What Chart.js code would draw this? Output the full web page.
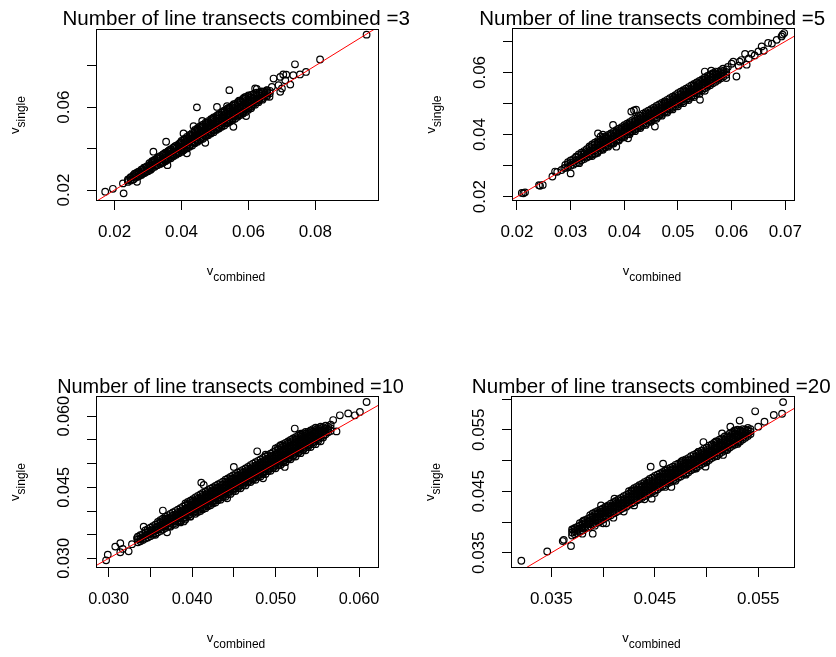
<!DOCTYPE html>
<html><head><meta charset="utf-8">
<script src="https://cdn.jsdelivr.net/npm/chart.js@4.4.1/dist/chart.umd.min.js"></script>
<style>
html,body{margin:0;padding:0;background:#fff;}
#wrap{position:relative;width:836px;height:657px;overflow:hidden;background:#fff;}
canvas{position:absolute;}
</style></head><body>
<div id="wrap">
<canvas id="c1" width="418" height="328" style="left:0;top:0"></canvas>
<canvas id="c2" width="418" height="328" style="left:418px;top:0"></canvas>
<canvas id="c3" width="418" height="329" style="left:0;top:328px"></canvas>
<canvas id="c4" width="418" height="329" style="left:418px;top:328px"></canvas>
</div>
<script>
// ---------- text ----------
const panelTitles = ["Number of line transects combined =3","Number of line transects combined =5","Number of line transects combined =10","Number of line transects combined =20"];
const xAxisTitle = ["v","combined"];
const yAxisTitle = ["v","single"];

// ---------- axis limits and ticks ----------
const p1XLimits = [0.01445, 0.09901], p1YLimits = [0.0147, 0.09773];
const p2XLimits = [0.01907, 0.07181], p2YLimits = [0.01861, 0.07432];
const p3XLimits = [0.02849, 0.06239], p3YLimits = [0.02798, 0.06427];
const p4XLimits = [0.0311, 0.05855],  p4YLimits = [0.03252, 0.06049];

const p1XTicks = [0.02,0.04,0.06,0.08], p1XLabels = ["0.02","0.04","0.06","0.08"];
const p1YTicks = [0.02,0.04,0.06,0.08], p1YLabels = ["0.02","","0.06",""];
const p2XTicks = [0.02,0.03,0.04,0.05,0.06,0.07], p2XLabels = ["0.02","0.03","0.04","0.05","0.06","0.07"];
const p2YTicks = [0.02,0.03,0.04,0.05,0.06,0.07], p2YLabels = ["0.02","","0.04","","0.06",""];
const p3XTicks = [0.030,0.035,0.040,0.045,0.050,0.055,0.060], p3XLabels = ["0.030","","0.040","","0.050","","0.060"];
const p3YTicks = [0.030,0.035,0.040,0.045,0.050,0.055,0.060], p3YLabels = ["0.030","","","0.045","","","0.060"];
const p4XTicks = [0.035,0.040,0.045,0.050,0.055], p4XLabels = ["0.035","","0.045","","0.055"];
const p4YTicks = [0.035,0.040,0.045,0.050,0.055,0.060], p4YLabels = ["0.035","","0.045","","0.055",""];

// reference line v_single = v_combined
const ablineIntercept = 0, ablineSlope = 1;

// ---------- scattered points [v_combined, v_single] ----------
const panel1Points = [
[0.0172,0.0192],[0.0195,0.0206],[0.0227,0.0184],[0.0225,0.0232],[0.0267,0.0240],[0.0316,0.0385],[0.0354,0.0433],[0.0358,0.0320],[0.0416,0.0377],[0.0406,0.0473],[0.0436,0.0508],[0.0446,0.0599],[0.0462,0.0534],[0.0471,0.0428],[0.0506,0.0601],[0.0536,0.0605],[0.0543,0.0682],[0.0555,0.0505],[0.0593,0.0557],[0.0620,0.0690],[0.0625,0.0688],[0.0640,0.0674],[0.0655,0.0682],[0.0663,0.0650],[0.0670,0.0698],[0.0675,0.0738],[0.0690,0.0706],[0.0695,0.0746],[0.0695,0.0674],[0.0700,0.0690],[0.0704,0.0758],[0.0710,0.0730],[0.0713,0.0757],[0.0725,0.0709],[0.0734,0.0754],[0.0739,0.0807],[0.0754,0.0758],[0.0772,0.0770],[0.0814,0.0830],[0.0953,0.0950],
[0.0240,0.0246],[0.0248,0.0262],[0.0256,0.0252],[0.0260,0.0279],[0.0268,0.0285],[0.0272,0.0268],[0.0280,0.0273],[0.0284,0.0299],[0.0288,0.0308],[0.0292,0.0285],[0.0300,0.0291],[0.0304,0.0317],[0.0308,0.0298],[0.0312,0.0335],[0.0316,0.0340],[0.0324,0.0318],[0.0328,0.0352],[0.0332,0.0358],[0.0340,0.0334],[0.0344,0.0370],[0.0348,0.0375],[0.0356,0.0350],[0.0360,0.0387],[0.0364,0.0392],[0.0372,0.0366],[0.0376,0.0404],[0.0380,0.0410],[0.0388,0.0383],[0.0392,0.0421],[0.0396,0.0427],[0.0404,0.0390],[0.0408,0.0402],[0.0416,0.0450],[0.0424,0.0414],[0.0428,0.0466],[0.0440,0.0431],[0.0444,0.0486],[0.0448,0.0439],[0.0456,0.0447],[0.0460,0.0505],[0.0472,0.0463],[0.0476,0.0524],[0.0480,0.0471],[0.0488,0.0479],[0.0492,0.0543],[0.0504,0.0495],[0.0508,0.0561],[0.0512,0.0503],[0.0520,0.0511],[0.0524,0.0579],[0.0536,0.0527],[0.0540,0.0597],[0.0544,0.0535],[0.0552,0.0543],[0.0556,0.0614],[0.0568,0.0560],[0.0572,0.0631],[0.0576,0.0568],[0.0584,0.0577],[0.0588,0.0647],[0.0600,0.0594],[0.0610,0.0603],[0.0620,0.0612],[0.0630,0.0624],[0.0642,0.0636],[0.0655,0.0651],
[0.0336,0.0326],[0.0352,0.0339],[0.0368,0.0353],[0.0384,0.0370],[0.0400,0.0384],[0.0416,0.0401],[0.0432,0.0415],[0.0448,0.0433],[0.0464,0.0447],[0.0480,0.0464],[0.0496,0.0479],[0.0512,0.0497],[0.0528,0.0511],[0.0544,0.0529],[0.0560,0.0544],[0.0576,0.0562],[0.0592,0.0577],[0.0608,0.0595],[0.0344,0.0331],[0.0360,0.0347],[0.0376,0.0363],[0.0392,0.0378],[0.0408,0.0394],[0.0424,0.0409],[0.0440,0.0426],[0.0456,0.0441],[0.0472,0.0458],[0.0488,0.0473],[0.0504,0.0490],[0.0520,0.0505],[0.0536,0.0522],[0.0552,0.0537],[0.0568,0.0554],[0.0584,0.0569],[0.0600,0.0587]
];
const panel2Points = [
[0.0212,0.0211],[0.0215,0.0214],[0.0209,0.0212],[0.0243,0.0235],[0.0248,0.0238],[0.0241,0.0237],[0.0266,0.0265],[0.0271,0.0281],[0.0275,0.0280],[0.0288,0.0292],[0.0283,0.0286],[0.0300,0.0275],[0.0310,0.0329],[0.0351,0.0404],[0.0356,0.0394],[0.0360,0.0400],[0.0379,0.0431],[0.0385,0.0361],[0.0407,0.0388],[0.0413,0.0474],[0.0422,0.0480],[0.0418,0.0478],[0.0457,0.0426],[0.0541,0.0512],[0.0550,0.0603],[0.0562,0.0606],[0.0590,0.0582],[0.0593,0.0618],[0.0600,0.0628],[0.0603,0.0635],[0.0609,0.0587],[0.0615,0.0635],[0.0613,0.0622],[0.0618,0.0640],[0.0625,0.0660],[0.0628,0.0625],[0.0632,0.0645],[0.0637,0.0660],[0.0643,0.0655],[0.0650,0.0668],[0.0656,0.0684],[0.0660,0.0670],[0.0668,0.0695],[0.0675,0.0693],[0.0684,0.0705],[0.0693,0.0716],[0.0698,0.0727],[0.0695,0.0722],
[0.0316,0.0308],[0.0334,0.0330],[0.0346,0.0338],[0.0352,0.0372],[0.0364,0.0359],[0.0367,0.0389],[0.0376,0.0372],[0.0385,0.0408],[0.0394,0.0391],[0.0403,0.0426],[0.0412,0.0410],[0.0421,0.0444],[0.0430,0.0429],[0.0439,0.0463],[0.0448,0.0448],[0.0457,0.0482],[0.0466,0.0466],[0.0475,0.0501],[0.0484,0.0485],[0.0493,0.0520],[0.0502,0.0504],[0.0511,0.0540],[0.0520,0.0523],[0.0529,0.0559],[0.0538,0.0542],[0.0547,0.0576],[0.0556,0.0561],[0.0565,0.0595],[0.0574,0.0580],[0.0584,0.0612],
[0.0340,0.0331],[0.0350,0.0341],[0.0360,0.0351],[0.0370,0.0361],[0.0380,0.0371],[0.0390,0.0381],[0.0400,0.0391],[0.0410,0.0401],[0.0420,0.0411],[0.0430,0.0421],[0.0440,0.0431],[0.0450,0.0441],[0.0460,0.0451],[0.0470,0.0461],[0.0480,0.0471],[0.0490,0.0481],[0.0500,0.0491],[0.0510,0.0501],[0.0520,0.0511],[0.0530,0.0521],[0.0540,0.0531],[0.0550,0.0541]
];
const panel3Points = [
[0.0297,0.0296],[0.0299,0.0308],[0.0308,0.0325],[0.0314,0.0332],[0.0314,0.0313],[0.0317,0.0320],[0.0324,0.0315],[0.0328,0.0330],[0.0334,0.0343],[0.0342,0.0367],[0.0338,0.0340],[0.0365,0.0401],[0.0370,0.0355],[0.0390,0.0378],[0.0411,0.0460],[0.0414,0.0455],[0.0442,0.0427],[0.0450,0.0493],[0.0478,0.0526],[0.0485,0.0469],[0.0511,0.0493],[0.0523,0.0574],[0.0569,0.0592],[0.0573,0.0568],[0.0577,0.0602],[0.0587,0.0606],[0.0595,0.0602],[0.0601,0.0609],[0.0609,0.0630],
[0.0356,0.0350],[0.0368,0.0384],[0.0374,0.0367],[0.0386,0.0379],[0.0392,0.0386],[0.0398,0.0389],[0.0407,0.0398],[0.0413,0.0404],[0.0419,0.0410],[0.0425,0.0416],[0.0431,0.0423],[0.0437,0.0429],[0.0443,0.0435],[0.0449,0.0441],[0.0455,0.0448],[0.0461,0.0454],[0.0467,0.0460],[0.0473,0.0466],[0.0479,0.0472],[0.0485,0.0478],[0.0491,0.0484],[0.0497,0.0490],[0.0503,0.0496],[0.0509,0.0502],[0.0515,0.0509],[0.0521,0.0515],[0.0527,0.0522],[0.0533,0.0528],[0.0539,0.0535],[0.0545,0.0541],[0.0551,0.0548],[0.0557,0.0555],[0.0488,0.0519],[0.0506,0.0539],[0.0530,0.0563],
[0.0380,0.0371],[0.0386,0.0376],[0.0392,0.0382],[0.0398,0.0388],[0.0404,0.0394],[0.0410,0.0400],[0.0416,0.0406],[0.0422,0.0412],[0.0428,0.0418],[0.0434,0.0424],[0.0440,0.0430],[0.0446,0.0436],[0.0452,0.0442],[0.0458,0.0448],[0.0464,0.0454],[0.0470,0.0461],[0.0476,0.0466],[0.0482,0.0473],[0.0488,0.0478],[0.0494,0.0485],[0.0500,0.0490],[0.0506,0.0497],[0.0512,0.0503],[0.0518,0.0509],[0.0524,0.0515],[0.0530,0.0522],[0.0536,0.0528],[0.0542,0.0535],[0.0548,0.0541],[0.0554,0.0547]
];
const panel4Points = [
[0.0321,0.0337],[0.0346,0.0352],[0.0361,0.0369],[0.0362,0.0371],[0.0369,0.0361],[0.0371,0.0388],[0.0373,0.0390],[0.0381,0.0402],[0.0390,0.0381],[0.0398,0.0427],[0.0403,0.0398],[0.0411,0.0438],[0.0446,0.0490],[0.0447,0.0438],[0.0458,0.0495],[0.0466,0.0457],[0.0497,0.0530],[0.0499,0.0490],[0.0515,0.0544],[0.0516,0.0509],[0.0523,0.0555],[0.0531,0.0530],[0.0532,0.0565],[0.0547,0.0580],[0.0550,0.0555],[0.0556,0.0563],[0.0565,0.0574],[0.0573,0.0576],[0.0574,0.0595],
[0.0380,0.0381],[0.0392,0.0394],[0.0396,0.0399],[0.0404,0.0424],[0.0412,0.0434],[0.0420,0.0426],[0.0428,0.0451],[0.0436,0.0443],[0.0444,0.0467],[0.0452,0.0459],[0.0460,0.0483],[0.0468,0.0475],[0.0476,0.0499],[0.0484,0.0490],[0.0492,0.0514],[0.0500,0.0506],[0.0509,0.0531],[0.0518,0.0523],[0.0527,0.0549],[0.0536,0.0541],
[0.0400,0.0398],[0.0410,0.0407],[0.0420,0.0417],[0.0430,0.0427],[0.0440,0.0437],[0.0450,0.0447],[0.0460,0.0457],[0.0470,0.0467],[0.0480,0.0477],[0.0490,0.0487],[0.0500,0.0497],[0.0510,0.0507],[0.0520,0.0517],[0.0530,0.0527]
];

// ---------- dense band: each row = [v_combined, v_single, v_single, ...] ----------
const panel1Rows = [
[0.0240,0.0239,0.0251],[0.0248,0.0246,0.0258],[0.0256,0.0251,0.0263,0.0272],[0.0264,0.0260,0.0272,0.0280],[0.0272,0.0266,0.0278,0.0289],[0.0280,0.0275,0.0287,0.0298],[0.0288,0.0281,0.0293,0.0305],[0.0296,0.0290,0.0302,0.0314],
[0.0304,0.0297,0.0309,0.0321,0.0330],[0.0312,0.0305,0.0317,0.0329,0.0339],[0.0320,0.0312,0.0324,0.0336,0.0347],[0.0328,0.0320,0.0332,0.0344,0.0355],[0.0336,0.0327,0.0340,0.0352,0.0363],[0.0344,0.0336,0.0348,0.0360,0.0371],[0.0352,0.0343,0.0356,0.0368,0.0380],[0.0360,0.0352,0.0364,0.0377,0.0388],[0.0368,0.0359,0.0372,0.0385,0.0397],[0.0376,0.0368,0.0380,0.0393,0.0405],[0.0384,0.0375,0.0388,0.0401,0.0414],[0.0392,0.0384,0.0397,0.0409,0.0422],
[0.0400,0.0391,0.0404,0.0417,0.0430,0.0437],[0.0408,0.0400,0.0413,0.0426,0.0439,0.0447],[0.0416,0.0407,0.0420,0.0433,0.0446,0.0457],[0.0424,0.0416,0.0429,0.0442,0.0455,0.0466],[0.0432,0.0423,0.0436,0.0449,0.0462,0.0475],[0.0440,0.0432,0.0445,0.0458,0.0471,0.0484,0.0490],[0.0448,0.0440,0.0453,0.0466,0.0479,0.0492,0.0499],[0.0456,0.0448,0.0461,0.0474,0.0487,0.0500,0.0508],[0.0464,0.0456,0.0469,0.0482,0.0495,0.0508,0.0516],[0.0472,0.0464,0.0477,0.0490,0.0503,0.0516,0.0525],[0.0480,0.0472,0.0485,0.0498,0.0511,0.0524,0.0533],[0.0488,0.0480,0.0493,0.0506,0.0519,0.0532,0.0542],[0.0496,0.0488,0.0501,0.0514,0.0527,0.0540,0.0550],
[0.0504,0.0496,0.0509,0.0522,0.0535,0.0548,0.0557],[0.0512,0.0505,0.0518,0.0531,0.0544,0.0557,0.0566],[0.0520,0.0513,0.0526,0.0539,0.0552,0.0565,0.0574],[0.0528,0.0522,0.0535,0.0548,0.0561,0.0574,0.0583],[0.0536,0.0530,0.0543,0.0556,0.0569,0.0582,0.0591],[0.0544,0.0539,0.0552,0.0565,0.0578,0.0591,0.0598],[0.0552,0.0547,0.0560,0.0573,0.0586,0.0599,0.0607],[0.0560,0.0556,0.0569,0.0582,0.0595,0.0608,0.0615],[0.0568,0.0564,0.0577,0.0590,0.0603,0.0616,0.0624],[0.0576,0.0573,0.0586,0.0599,0.0612,0.0625,0.0632],[0.0584,0.0581,0.0594,0.0607,0.0620,0.0633,0.0641],[0.0592,0.0590,0.0603,0.0616,0.0629,0.0642,0.0650],
[0.0600,0.0598,0.0611,0.0624,0.0637,0.0650,0.0657],[0.0608,0.0607,0.0620,0.0633,0.0646,0.0659],[0.0616,0.0615,0.0628,0.0641,0.0654,0.0664],[0.0624,0.0624,0.0637,0.0650,0.0662,0.0670],[0.0632,0.0632,0.0645,0.0658,0.0670],[0.0640,0.0641,0.0654,0.0666,0.0676],[0.0648,0.0650,0.0663,0.0675],[0.0656,0.0659,0.0671,0.0681],[0.0664,0.0667,0.0679]
];
const panel2Rows = [
[0.0290,0.0293,0.0302],[0.0295,0.0296,0.0305,0.0311],[0.0300,0.0300,0.0309,0.0317],[0.0305,0.0303,0.0312,0.0321],[0.0310,0.0308,0.0317,0.0326],[0.0315,0.0312,0.0321,0.0330,0.0336],[0.0320,0.0317,0.0326,0.0335,0.0342],[0.0325,0.0321,0.0330,0.0339,0.0347],[0.0330,0.0326,0.0335,0.0344,0.0353],
[0.0335,0.0330,0.0339,0.0348,0.0357,0.0362],[0.0340,0.0336,0.0345,0.0354,0.0363,0.0368],[0.0345,0.0340,0.0349,0.0358,0.0367,0.0374],[0.0350,0.0345,0.0354,0.0363,0.0372,0.0379],[0.0355,0.0350,0.0359,0.0368,0.0377,0.0384],[0.0360,0.0355,0.0364,0.0373,0.0382,0.0389],[0.0365,0.0360,0.0369,0.0378,0.0387,0.0394],[0.0370,0.0365,0.0374,0.0383,0.0392,0.0399],[0.0375,0.0370,0.0379,0.0388,0.0397,0.0404],[0.0380,0.0375,0.0384,0.0393,0.0402,0.0409],[0.0385,0.0380,0.0389,0.0398,0.0407,0.0414],[0.0390,0.0385,0.0394,0.0403,0.0412,0.0419],[0.0395,0.0390,0.0399,0.0408,0.0417,0.0424],
[0.0400,0.0396,0.0405,0.0414,0.0423,0.0430],[0.0405,0.0401,0.0410,0.0419,0.0428,0.0435],[0.0410,0.0406,0.0415,0.0424,0.0433,0.0440],[0.0415,0.0411,0.0420,0.0429,0.0438,0.0446],[0.0420,0.0416,0.0425,0.0434,0.0443,0.0451],[0.0425,0.0421,0.0430,0.0439,0.0448,0.0456],[0.0430,0.0426,0.0435,0.0444,0.0453,0.0461],[0.0435,0.0431,0.0440,0.0449,0.0458,0.0467],[0.0440,0.0436,0.0445,0.0454,0.0463,0.0472],[0.0445,0.0441,0.0450,0.0459,0.0468,0.0477],[0.0450,0.0446,0.0455,0.0464,0.0473,0.0482],[0.0455,0.0451,0.0460,0.0469,0.0478,0.0487],[0.0460,0.0456,0.0465,0.0474,0.0483,0.0492],[0.0465,0.0461,0.0470,0.0479,0.0488,0.0497],[0.0470,0.0466,0.0475,0.0484,0.0493,0.0502],[0.0475,0.0471,0.0480,0.0489,0.0498,0.0507],[0.0480,0.0476,0.0485,0.0494,0.0503,0.0512],[0.0485,0.0481,0.0490,0.0499,0.0508,0.0517],[0.0490,0.0486,0.0495,0.0504,0.0513,0.0522],[0.0495,0.0491,0.0500,0.0509,0.0518,0.0527],
[0.0500,0.0497,0.0506,0.0515,0.0524,0.0533],[0.0505,0.0502,0.0511,0.0520,0.0529,0.0538],[0.0510,0.0507,0.0516,0.0525,0.0534,0.0543],[0.0515,0.0512,0.0521,0.0530,0.0539,0.0548],[0.0520,0.0517,0.0526,0.0535,0.0544,0.0553],[0.0525,0.0522,0.0531,0.0540,0.0549,0.0558],[0.0530,0.0527,0.0536,0.0545,0.0554,0.0563],[0.0535,0.0533,0.0542,0.0551,0.0560,0.0568],[0.0540,0.0538,0.0547,0.0556,0.0565,0.0573],[0.0545,0.0543,0.0552,0.0561,0.0570,0.0578],[0.0550,0.0549,0.0558,0.0567,0.0576,0.0584],[0.0555,0.0554,0.0563,0.0572,0.0581,0.0589],[0.0560,0.0559,0.0568,0.0577,0.0586,0.0594],[0.0565,0.0565,0.0574,0.0583,0.0592,0.0598],[0.0570,0.0570,0.0579,0.0588,0.0597,0.0603],[0.0575,0.0576,0.0585,0.0594,0.0603],[0.0580,0.0581,0.0590,0.0599,0.0607],[0.0585,0.0587,0.0596,0.0605],[0.0590,0.0593,0.0602,0.0610]
];
const panel3Rows = [
[0.0335,0.0334,0.0340,0.0346],[0.0338,0.0336,0.0342,0.0349],[0.0341,0.0339,0.0345,0.0351],[0.0344,0.0342,0.0348,0.0354,0.0359],[0.0347,0.0344,0.0350,0.0356,0.0362],[0.0350,0.0347,0.0353,0.0359,0.0365],[0.0353,0.0350,0.0356,0.0362,0.0368],[0.0356,0.0353,0.0359,0.0365,0.0371],[0.0359,0.0355,0.0361,0.0367,0.0373,0.0377],[0.0362,0.0358,0.0364,0.0370,0.0376,0.0381],[0.0365,0.0361,0.0367,0.0373,0.0379,0.0384],[0.0368,0.0364,0.0370,0.0376,0.0382,0.0388],[0.0371,0.0367,0.0373,0.0379,0.0385,0.0391],[0.0374,0.0369,0.0375,0.0381,0.0387,0.0394],[0.0377,0.0372,0.0378,0.0384,0.0390,0.0397],
[0.0380,0.0375,0.0381,0.0387,0.0393,0.0400],[0.0383,0.0378,0.0384,0.0390,0.0396,0.0403],[0.0386,0.0381,0.0387,0.0393,0.0399,0.0406],[0.0389,0.0384,0.0390,0.0396,0.0402,0.0409],[0.0392,0.0387,0.0393,0.0399,0.0405,0.0412,0.0416],[0.0395,0.0390,0.0396,0.0402,0.0408,0.0414,0.0419],[0.0398,0.0393,0.0399,0.0405,0.0411,0.0417,0.0422],[0.0401,0.0396,0.0402,0.0408,0.0414,0.0420,0.0425],[0.0404,0.0399,0.0405,0.0411,0.0417,0.0423,0.0429],[0.0407,0.0402,0.0408,0.0414,0.0420,0.0426,0.0432],[0.0410,0.0405,0.0411,0.0417,0.0423,0.0429,0.0435],[0.0413,0.0408,0.0414,0.0420,0.0426,0.0432,0.0438],[0.0416,0.0411,0.0417,0.0423,0.0429,0.0435,0.0441],[0.0419,0.0414,0.0420,0.0426,0.0432,0.0438,0.0444],
[0.0422,0.0417,0.0423,0.0429,0.0435,0.0441,0.0447],[0.0425,0.0420,0.0426,0.0432,0.0438,0.0444,0.0450],[0.0428,0.0423,0.0429,0.0435,0.0441,0.0447,0.0453],[0.0431,0.0426,0.0432,0.0438,0.0444,0.0450,0.0456],[0.0434,0.0429,0.0435,0.0441,0.0447,0.0453,0.0459],[0.0437,0.0432,0.0438,0.0444,0.0450,0.0456,0.0462],[0.0440,0.0436,0.0442,0.0448,0.0454,0.0460,0.0466],[0.0443,0.0439,0.0445,0.0451,0.0457,0.0463,0.0469],[0.0446,0.0442,0.0448,0.0454,0.0460,0.0466,0.0472],[0.0449,0.0445,0.0451,0.0457,0.0463,0.0469,0.0475],[0.0452,0.0448,0.0454,0.0460,0.0466,0.0472,0.0478],[0.0455,0.0451,0.0457,0.0463,0.0469,0.0475,0.0481],[0.0458,0.0454,0.0460,0.0466,0.0472,0.0478,0.0484],[0.0461,0.0457,0.0463,0.0469,0.0475,0.0481,0.0487],
[0.0464,0.0460,0.0466,0.0472,0.0478,0.0484,0.0490],[0.0467,0.0463,0.0469,0.0475,0.0481,0.0487,0.0493],[0.0470,0.0466,0.0472,0.0478,0.0484,0.0490,0.0497],[0.0473,0.0469,0.0475,0.0481,0.0487,0.0493,0.0500],[0.0476,0.0472,0.0478,0.0484,0.0490,0.0496,0.0503],[0.0479,0.0475,0.0481,0.0487,0.0493,0.0499,0.0506],[0.0482,0.0478,0.0484,0.0490,0.0496,0.0502,0.0509],[0.0485,0.0481,0.0487,0.0493,0.0499,0.0505,0.0512],[0.0488,0.0484,0.0490,0.0496,0.0502,0.0508,0.0515],[0.0491,0.0487,0.0493,0.0499,0.0505,0.0511,0.0518],[0.0494,0.0490,0.0496,0.0502,0.0508,0.0514,0.0521],[0.0497,0.0493,0.0499,0.0505,0.0511,0.0517,0.0524],
[0.0500,0.0496,0.0502,0.0508,0.0514,0.0520,0.0527,0.0532],[0.0503,0.0499,0.0505,0.0511,0.0517,0.0523,0.0530,0.0535],[0.0506,0.0502,0.0508,0.0514,0.0520,0.0526,0.0533,0.0538],[0.0509,0.0505,0.0511,0.0517,0.0523,0.0529,0.0536,0.0541],[0.0512,0.0508,0.0514,0.0520,0.0526,0.0532,0.0539,0.0544],[0.0515,0.0511,0.0517,0.0523,0.0529,0.0535,0.0542,0.0547],[0.0518,0.0514,0.0520,0.0526,0.0532,0.0538,0.0545,0.0550],[0.0521,0.0517,0.0523,0.0529,0.0535,0.0541,0.0548,0.0553],[0.0524,0.0521,0.0527,0.0533,0.0539,0.0545,0.0551,0.0556],[0.0527,0.0524,0.0530,0.0536,0.0542,0.0548,0.0554,0.0559],[0.0530,0.0527,0.0533,0.0539,0.0545,0.0551,0.0557,0.0561],[0.0533,0.0531,0.0537,0.0543,0.0549,0.0555,0.0560,0.0564],[0.0536,0.0534,0.0540,0.0546,0.0552,0.0558,0.0563,0.0567],
[0.0539,0.0538,0.0544,0.0550,0.0556,0.0562,0.0567],[0.0542,0.0541,0.0547,0.0553,0.0559,0.0565,0.0570],[0.0545,0.0545,0.0551,0.0557,0.0563,0.0568,0.0573],[0.0548,0.0548,0.0554,0.0560,0.0566,0.0571,0.0576],[0.0551,0.0552,0.0558,0.0564,0.0570,0.0575],[0.0554,0.0555,0.0561,0.0567,0.0573,0.0578],[0.0557,0.0559,0.0565,0.0571,0.0577],[0.0560,0.0562,0.0568,0.0574,0.0580],[0.0563,0.0566,0.0572,0.0578],[0.0566,0.0569,0.0575,0.0582]
];
const panel4Rows = [
[0.03700,0.0378,0.0383,0.0388],[0.03725,0.0380,0.0385,0.0390],[0.03750,0.0382,0.0387,0.0392],[0.03775,0.0384,0.0389,0.0394,0.0398],[0.03800,0.0386,0.0391,0.0396,0.0400],[0.03825,0.0389,0.0393,0.0398,0.0403],[0.03850,0.0391,0.0396,0.0400,0.0405],[0.03875,0.0393,0.0398,0.0403,0.0407,0.0411],[0.03900,0.0396,0.0400,0.0405,0.0409,0.0414],[0.03925,0.0398,0.0403,0.0407,0.0412,0.0416],[0.03950,0.0400,0.0405,0.0409,0.0414,0.0418],[0.03975,0.0402,0.0407,0.0412,0.0416,0.0420],
[0.04000,0.0404,0.0409,0.0414,0.0418,0.0422],[0.04025,0.0407,0.0411,0.0416,0.0420,0.0425],[0.04050,0.0409,0.0414,0.0418,0.0423,0.0427],[0.04075,0.0411,0.0416,0.0421,0.0425,0.0430],[0.04100,0.0414,0.0418,0.0423,0.0427,0.0432],[0.04125,0.0416,0.0421,0.0425,0.0430,0.0434],[0.04150,0.0418,0.0423,0.0428,0.0432,0.0437],[0.04175,0.0421,0.0425,0.0430,0.0435,0.0439],[0.04200,0.0423,0.0428,0.0432,0.0437,0.0442],[0.04225,0.0425,0.0430,0.0435,0.0439,0.0444],[0.04250,0.0428,0.0432,0.0437,0.0442,0.0446,0.0450],[0.04275,0.0430,0.0435,0.0440,0.0444,0.0449,0.0452],[0.04300,0.0432,0.0437,0.0442,0.0446,0.0451,0.0455],[0.04325,0.0435,0.0439,0.0444,0.0449,0.0453,0.0457],[0.04350,0.0437,0.0442,0.0446,0.0451,0.0456,0.0460],[0.04375,0.0439,0.0444,0.0449,0.0453,0.0458,0.0462],
[0.04400,0.0442,0.0446,0.0451,0.0456,0.0460,0.0465],[0.04425,0.0444,0.0449,0.0453,0.0458,0.0463,0.0467],[0.04450,0.0446,0.0451,0.0456,0.0460,0.0465,0.0470],[0.04475,0.0449,0.0453,0.0458,0.0463,0.0467,0.0472],[0.04500,0.0451,0.0456,0.0460,0.0465,0.0470,0.0475],[0.04525,0.0453,0.0458,0.0463,0.0467,0.0472,0.0477],[0.04550,0.0456,0.0460,0.0465,0.0470,0.0474,0.0479],[0.04575,0.0458,0.0463,0.0467,0.0472,0.0477,0.0481],[0.04600,0.0460,0.0465,0.0470,0.0474,0.0479,0.0484],[0.04625,0.0463,0.0467,0.0472,0.0477,0.0481,0.0486],[0.04650,0.0465,0.0470,0.0474,0.0479,0.0484,0.0488],[0.04675,0.0467,0.0472,0.0477,0.0481,0.0486,0.0490],[0.04700,0.0470,0.0474,0.0479,0.0484,0.0488,0.0493],[0.04725,0.0472,0.0477,0.0481,0.0486,0.0491,0.0495],[0.04750,0.0474,0.0479,0.0484,0.0488,0.0493,0.0497],[0.04775,0.0477,0.0481,0.0486,0.0491,0.0495,0.0500],
[0.04800,0.0479,0.0484,0.0488,0.0493,0.0497,0.0502],[0.04825,0.0481,0.0486,0.0491,0.0495,0.0500,0.0504],[0.04850,0.0484,0.0488,0.0493,0.0497,0.0502,0.0507],[0.04875,0.0486,0.0491,0.0495,0.0500,0.0504,0.0509],[0.04900,0.0489,0.0493,0.0498,0.0502,0.0507,0.0511],[0.04925,0.0491,0.0496,0.0500,0.0505,0.0509,0.0514],[0.04950,0.0494,0.0498,0.0503,0.0507,0.0512,0.0516],[0.04975,0.0496,0.0501,0.0505,0.0510,0.0514,0.0519],[0.05000,0.0499,0.0503,0.0508,0.0512,0.0517,0.0521],[0.05025,0.0501,0.0506,0.0510,0.0515,0.0519,0.0524],[0.05050,0.0504,0.0508,0.0513,0.0517,0.0522,0.0526],[0.05075,0.0506,0.0511,0.0515,0.0520,0.0524,0.0529],[0.05100,0.0509,0.0513,0.0518,0.0522,0.0527,0.0531],[0.05125,0.0511,0.0516,0.0520,0.0525,0.0529,0.0534],
[0.05150,0.0514,0.0518,0.0523,0.0527,0.0532,0.0536],[0.05175,0.0516,0.0521,0.0525,0.0530,0.0534,0.0539],[0.05200,0.0519,0.0523,0.0528,0.0532,0.0537,0.0541],[0.05225,0.0521,0.0526,0.0530,0.0535,0.0539,0.0544],[0.05250,0.0524,0.0528,0.0533,0.0537,0.0542,0.0546],[0.05275,0.0526,0.0531,0.0535,0.0540,0.0544,0.0548],[0.05300,0.0529,0.0533,0.0538,0.0542,0.0547,0.0550],[0.05325,0.0531,0.0536,0.0540,0.0545,0.0549],[0.05350,0.0534,0.0538,0.0543,0.0547,0.0551],[0.05375,0.0537,0.0541,0.0546,0.0550],[0.05400,0.0540,0.0544,0.0549,0.0553],[0.05425,0.0543,0.0547,0.0551]
];

// ---------- layout / style ----------
const FONT = '"Liberation Sans", Arial, sans-serif';
const panels = [
  {canvas:'c1', ox:0,   oy:0,   title:panelTitles[0], pts:panel1Points, rows:panel1Rows, xl:p1XLimits, yl:p1YLimits, xt:p1XTicks, xlab:p1XLabels, yt:p1YTicks, ylab:p1YLabels, box:[96,29,379,201],  titleY:25,    titleSize:20.6, titleDx:-1.3, tick:17},
  {canvas:'c2', ox:418, oy:0,   title:panelTitles[1], pts:panel2Points, rows:panel2Rows, xl:p2XLimits, yl:p2YLimits, xt:p2XTicks, xlab:p2XLabels, yt:p2YTicks, ylab:p2YLabels, box:[512,28,795,201], titleY:25,    titleSize:20.5, titleDx:-1.3, tick:17},
  {canvas:'c3', ox:0,   oy:328, title:panelTitles[2], pts:panel3Points, rows:panel3Rows, xl:p3XLimits, yl:p3YLimits, xt:p3XTicks, xlab:p3XLabels, yt:p3YTicks, ylab:p3YLabels, box:[96,396,379,568], titleY:393.3, titleSize:19.9, titleDx:-7,   tick:16.3},
  {canvas:'c4', ox:418, oy:328, title:panelTitles[3], pts:panel4Points, rows:panel4Rows, xl:p4XLimits, yl:p4YLimits, xt:p4XTicks, xlab:p4XLabels, yt:p4YTicks, ylab:p4YLabels, box:[511,396,795,568], titleY:393.3, titleSize:20.6, titleDx:-1.7, tick:17}
];
const TICK_LEN = 9, X_SCALE_H = 40;

function drawSub(ctx, parts, cx, by) {
  ctx.font = '13px ' + FONT; const w1 = ctx.measureText(parts[0]).width;
  ctx.font = '12px ' + FONT; const w2 = ctx.measureText(parts[1]).width;
  const x0 = cx - (w1 + w2) / 2;
  ctx.textAlign = 'left'; ctx.textBaseline = 'alphabetic';
  ctx.font = '13px ' + FONT; ctx.fillText(parts[0], x0, by);
  ctx.font = '12px ' + FONT; ctx.fillText(parts[1], x0 + w1, by + 6);
}

const rDecor = {
  id: 'rDecor',
  afterDraw(chart, args, o) {
    const ctx = chart.ctx, a = chart.chartArea;
    ctx.save();
    ctx.strokeStyle = '#000'; ctx.lineWidth = 1;
    ctx.strokeRect(Math.round(a.left) + 0.5, Math.round(a.top) + 0.5, Math.round(a.right - a.left) - 1, Math.round(a.bottom - a.top) - 1);
    ctx.fillStyle = '#000';
    ctx.font = o.titleSize + 'px ' + FONT;
    ctx.textAlign = 'center'; ctx.textBaseline = 'alphabetic';
    ctx.fillText(o.title, (a.left + a.right) / 2 + o.titleDx, o.titleY);
    drawSub(ctx, xAxisTitle, (a.left + a.right) / 2 - 1.5, a.bottom + 74);
    ctx.translate(a.left - 77.5, (a.top + a.bottom) / 2);
    ctx.rotate(-Math.PI / 2);
    drawSub(ctx, yAxisTitle, 0, 0);
    ctx.restore();
  }
};

const measureCtx = document.createElement('canvas').getContext('2d');

panels.forEach(p => {
  const cv = document.getElementById(p.canvas);
  const W = cv.width, H = cv.height;
  const L = p.box[0] - p.ox, T = p.box[1] - p.oy, R = p.box[2] - p.ox, B = p.box[3] - p.oy;
  measureCtx.font = p.tick + 'px ' + FONT;
  const widest = Math.max(...p.ylab.map(s => measureCtx.measureText(s).width));
  const yPad = 31.5 - TICK_LEN - widest / 2;
  const xPad = 31.5 - TICK_LEN - p.tick * 1.2 / 2;
  const lineData = [
    {x: p.xl[0], y: ablineIntercept + ablineSlope * p.xl[0]},
    {x: p.xl[1], y: ablineIntercept + ablineSlope * p.xl[1]}
  ];
  const pointData = p.pts.map(q => ({x:q[0], y:q[1]}))
    .concat(p.rows.flatMap(r => r.slice(1).map(v => ({x:r[0], y:v}))));
  const gridOpts = {display:true, drawOnChartArea:false, drawTicks:true, tickLength:TICK_LEN, tickColor:'#000', tickWidth:1, color:'#000', lineWidth:1};
  new Chart(cv, {
    type: 'scatter',
    data: {
      datasets: [
        {type:'line', data: lineData, borderColor:'#FF0000', borderWidth:1, pointRadius:0, fill:false, tension:0},
        {data: pointData, pointStyle:'circle', pointRadius:3.3, pointBorderWidth:1.2, borderColor:'#000', pointBorderColor:'#000', backgroundColor:'rgba(0,0,0,0)', pointBackgroundColor:'rgba(0,0,0,0)', pointHoverRadius:3.3}
      ]
    },
    options: {
      responsive:false, animation:false, devicePixelRatio:1, events:[],
      layout: {autoPadding:false, padding:{left:0, top:T, right:W - R, bottom:H - B - X_SCALE_H}},
      plugins: {legend:{display:false}, tooltip:{enabled:false}, title:{display:false},
        rDecor: {title:p.title, titleY:p.titleY - p.oy, titleSize:p.titleSize, titleDx:p.titleDx}},
      scales: {
        x: {type:'linear', position:'bottom', bounds:'data', min:p.xl[0], max:p.xl[1],
            afterBuildTicks: s => { s.ticks = p.xt.map(v => ({value:v})); },
            afterFit: s => { s.height = X_SCALE_H; },
            grid: gridOpts, border:{display:false},
            ticks: {autoSkip:false, maxRotation:0, minRotation:0, padding:xPad, color:'#000',
                    font:{family:FONT, size:p.tick, lineHeight:1.2}, callback:(v, i) => p.xlab[i]}},
        y: {type:'linear', position:'left', bounds:'data', min:p.yl[0], max:p.yl[1],
            afterBuildTicks: s => { s.ticks = p.yt.map(v => ({value:v})); },
            afterFit: s => { s.width = L; },
            grid: gridOpts, border:{display:false},
            ticks: {autoSkip:false, minRotation:90, maxRotation:90, crossAlign:'center', padding:yPad, color:'#000',
                    font:{family:FONT, size:p.tick, lineHeight:1.2}, callback:(v, i) => p.ylab[i]}}
      }
    },
    plugins: [rDecor]
  });
});
</script>
</body></html>
